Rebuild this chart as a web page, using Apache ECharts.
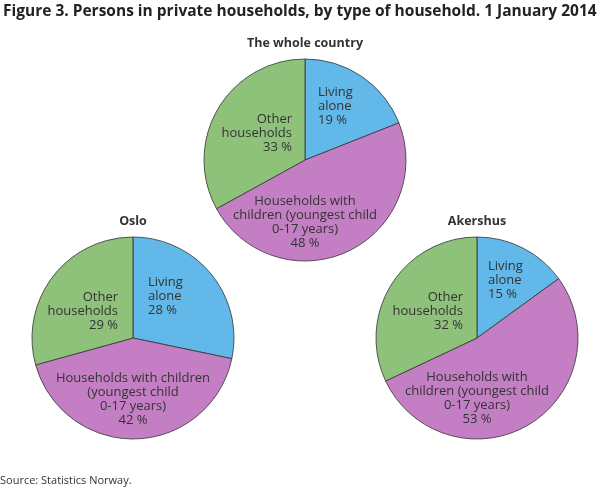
<!DOCTYPE html>
<html>
<head>
<meta charset="utf-8">
<script src="https://cdn.jsdelivr.net/npm/echarts@6/dist/echarts.min.js"></script>
<style>
  html, body { margin: 0; padding: 0; background: #fff; }
  #main { width: 610px; height: 488px; }
</style>
</head>
<body>
<div id="main"></div>
<script>
// Data
const categories = ['Living alone', 'Households with children (youngest child 0-17 years)', 'Other households'];
const regions = ['The whole country', 'Oslo', 'Akershus'];
const wholeCountry = [19, 48, 33];
const oslo = [28, 42, 29];
const akershus = [15, 53, 32];

const regionValues = [wholeCountry, oslo, akershus];

// how each category name wraps inside the slices (Oslo has a wider line)
const wrappedNames = [
  ['Living\nalone', 'Households with\nchildren (youngest child\n0-17 years)', 'Other\nhouseholds'],
  ['Living\nalone', 'Households with children\n(youngest child\n0-17 years)', 'Other\nhouseholds'],
  ['Living\nalone', 'Households with\nchildren (youngest child\n0-17 years)', 'Other\nhouseholds']
];

const colors = ['#62b8e8', '#c47fc4', '#8ec27a'];
const pieCenters = [[305, 160], [133, 338], [477, 338]];
const pieRadius = 101;

// label placement relative to each pie centre: [dx, dy, align]
const labelSpots = [
  [[13, -54, 'left'], [0, 62, 'center'], [-13, -27, 'right']],
  [[15, -42, 'left'], [0, 61, 'center'], [-15, -27, 'right']],
  [[11, -58, 'left'], [0, 60, 'center'], [-14, -27, 'right']]
];

const font = "'Open Sans', 'Noto Sans', sans-serif";

const chart = echarts.init(document.getElementById('main'));

const titles = [{
  text: 'Figure 3. Persons in private households, by type of household. 1 January 2014',
  left: 0,
  top: 2,
  padding: [2, 3],
  textStyle: { fontFamily: font, fontSize: 15.5, fontWeight: 'bold', color: '#222' }
}, {
  text: 'Source: Statistics Norway.',
  left: 0,
  bottom: 0,
  padding: [2, 0],
  textStyle: { fontFamily: font, fontSize: 11, fontWeight: 'normal', color: '#333' }
}];

regions.forEach((r, i) => {
  titles.push({
    text: r,
    left: pieCenters[i][0],
    top: pieCenters[i][1] - pieRadius - 22,
    textAlign: 'center',
    padding: 0,
    textStyle: { fontFamily: font, fontSize: 12.5, fontWeight: 'bold', color: '#333' }
  });
});

const series = regions.map((r, i) => ({
  name: r,
  type: 'pie',
  center: pieCenters[i],
  radius: pieRadius,
  startAngle: 90,
  clockwise: true,
  silent: true,
  itemStyle: { borderColor: '#333', borderWidth: 0.8 },
  label: {
    show: true,
    position: 'inside',
    fontFamily: font,
    fontSize: 13,
    lineHeight: 14,
    color: '#333',
    formatter: p => wrappedNames[i][p.dataIndex] + '\n' + p.value + ' %'
  },
  labelLine: { show: false },
  labelLayout: params => {
    const spot = labelSpots[params.seriesIndex][params.dataIndex];
    const c = pieCenters[params.seriesIndex];
    return { x: c[0] + spot[0], y: c[1] + spot[1], align: spot[2], verticalAlign: 'middle' };
  },
  data: regionValues[i].map((v, j) => ({
    name: categories[j],
    value: v,
    itemStyle: { color: colors[j] },
    label: { align: labelSpots[i][j][2] }
  }))
}));

chart.setOption({
  animation: false,
  title: titles,
  series: series
});
window.addEventListener('resize', () => chart.resize());
</script>
</body>
</html>
